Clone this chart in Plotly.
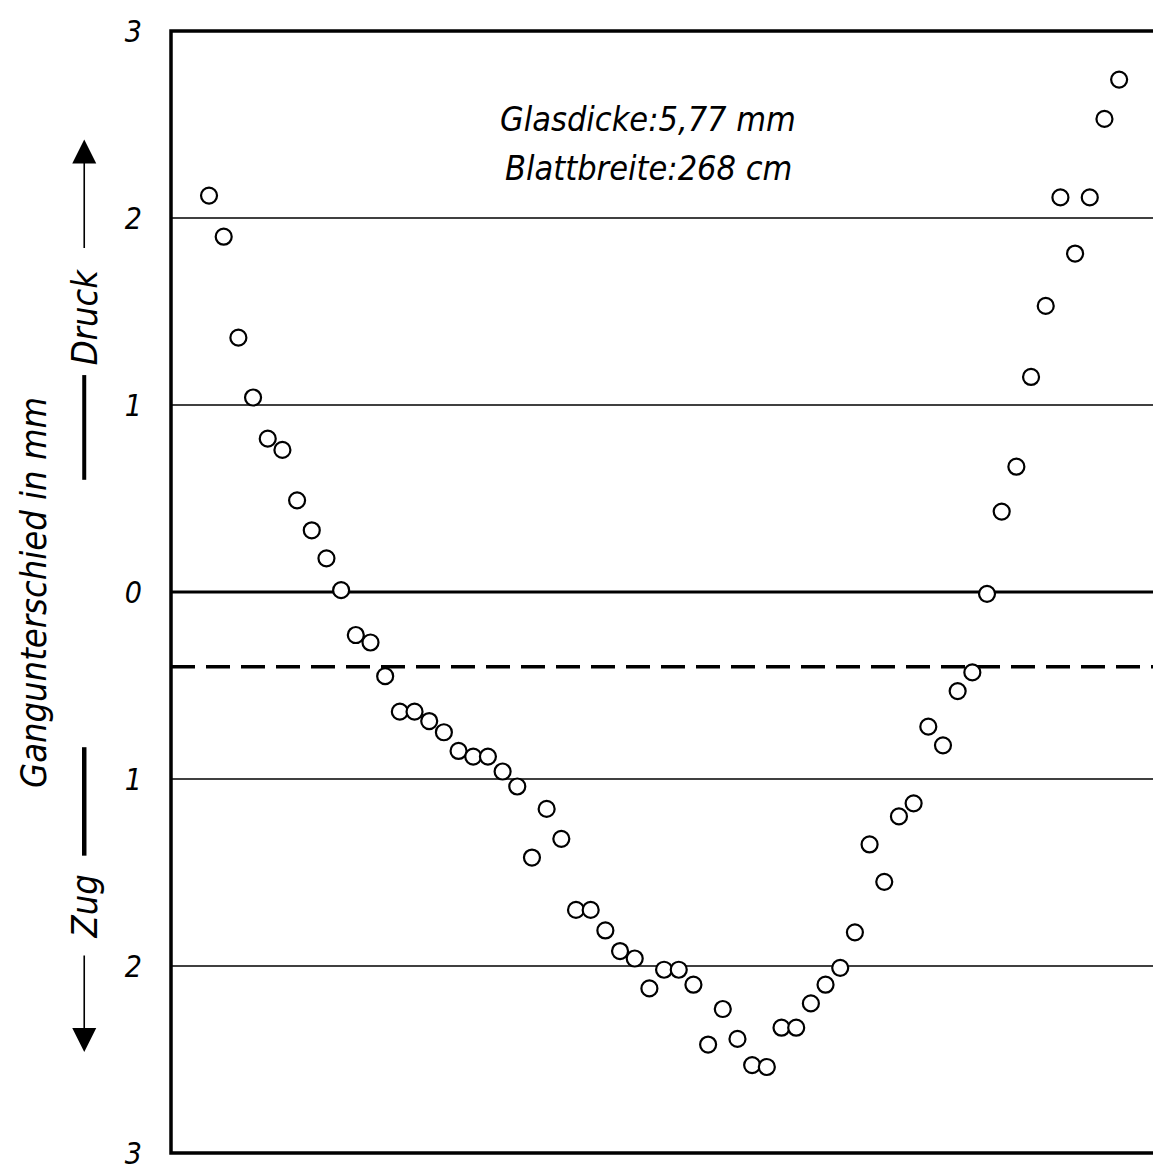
import plotly.graph_objects as go

# Measurement positions (evenly spaced along the plate) and path differences in mm
positions = list(range(1, 64))
gangunterschied = [
    2.12, 1.90, 1.36, 1.04, 0.82, 0.76, 0.49, 0.33, 0.18, 0.01,
    -0.23, -0.27, -0.45, -0.64, -0.64, -0.69, -0.75, -0.85, -0.88, -0.88,
    -0.96, -1.04, -1.42, -1.16, -1.32, -1.70, -1.70, -1.81, -1.92, -1.96,
    -2.12, -2.02, -2.02, -2.10, -2.42, -2.23, -2.39, -2.53, -2.54, -2.33,
    -2.33, -2.20, -2.10, -2.01, -1.82, -1.35, -1.55, -1.20, -1.13, -0.72,
    -0.82, -0.53, -0.43, -0.01, 0.43, 0.67, 1.15, 1.53, 2.11, 1.81,
    2.11, 2.53, 2.74,
]
mean_level = -0.40
tick_vals = [-3, -2, -1, 0, 1, 2, 3]
tick_text = ["3", "2", "1", "0", "1", "2", "3"]
grid_levels = [-2, -1, 1, 2]

FONT = "DejaVu Sans Condensed, DejaVu Sans, sans-serif"

fig = go.Figure()

# grid lines
for g in grid_levels:
    fig.add_shape(type="line", xref="paper", yref="y", x0=0, x1=1, y0=g, y1=g,
                  line=dict(color="black", width=1.3), layer="below")
fig.add_shape(type="line", xref="paper", yref="y", x0=0, x1=1, y0=0, y1=0,
              line=dict(color="black", width=3), layer="below")
fig.add_shape(type="line", xref="paper", yref="y", x0=0, x1=1, y0=mean_level, y1=mean_level,
              line=dict(color="black", width=3.5, dash="24px,11px"), layer="below")

fig.add_trace(go.Scatter(
    x=positions, y=gangunterschied, mode="markers",
    marker=dict(symbol="circle", size=16, color="white",
                line=dict(color="black", width=2.2)),
    showlegend=False, hoverinfo="skip",
))

# frame
fig.add_shape(type="rect", xref="paper", yref="paper", x0=0, x1=1, y0=0, y1=1,
              line=dict(color="black", width=3.5))

# text box
fig.add_annotation(xref="paper", yref="y", x=0.484, y=2.53, xanchor="center",
                   text="Glasdicke:5,77 mm", showarrow=False,
                   font=dict(family=FONT, size=34, style="italic", color="black"))
fig.add_annotation(xref="paper", yref="y", x=0.484, y=2.27, xanchor="center",
                   text="Blattbreite:268 cm", showarrow=False,
                   font=dict(family=FONT, size=34, style="italic", color="black"))

# axis title
fig.add_annotation(xref="paper", yref="y", x=-0.140, y=0.0, xanchor="center",
                   text="Gangunterschied in mm", textangle=-90, showarrow=False,
                   font=dict(family=FONT, size=36, style="italic", color="black"))

# Druck / Zug labels
xa = -0.088
fig.add_annotation(xref="paper", yref="y", x=xa, y=1.47, xanchor="center", text="Druck",
                   textangle=-90, showarrow=False,
                   font=dict(family=FONT, size=36, style="italic", color="black"))
fig.add_annotation(xref="paper", yref="y", x=xa, y=-1.68, xanchor="center", text="Zug",
                   textangle=-90, showarrow=False,
                   font=dict(family=FONT, size=36, style="italic", color="black"))
# arrows
fig.add_annotation(xref="paper", yref="y", x=xa, y=2.42, ax=0, ay=110, text="",
                   showarrow=True, arrowhead=2, arrowsize=3.0, arrowwidth=1.6, arrowcolor="black")
fig.add_annotation(xref="paper", yref="y", x=xa, y=-2.46, ax=0, ay=-98, text="",
                   showarrow=True, arrowhead=2, arrowsize=3.0, arrowwidth=1.6, arrowcolor="black")
# thick bars
fig.add_shape(type="line", xref="paper", yref="y", x0=xa, x1=xa, y0=1.16, y1=0.60,
              line=dict(color="black", width=4))
fig.add_shape(type="line", xref="paper", yref="y", x0=xa, x1=xa, y0=-0.83, y1=-1.41,
              line=dict(color="black", width=4.5))

fig.update_layout(
    width=1161, height=1171,
    margin=dict(l=163, r=12, t=23, b=26, autoexpand=False),
    paper_bgcolor="white", plot_bgcolor="white",
    xaxis=dict(range=[-1.59, 65.58], showgrid=False, zeroline=False, automargin=False,
               showticklabels=False, ticks="", showline=False, fixedrange=True),
    yaxis=dict(range=[-3, 3], tickvals=tick_vals, ticktext=tick_text, automargin=False,
               showgrid=False, zeroline=False, showline=False, ticks="",
               ticklabelstandoff=28,
               tickfont=dict(family=FONT, size=30, style="italic", color="black")),
)

fig.write_html("out.html")
